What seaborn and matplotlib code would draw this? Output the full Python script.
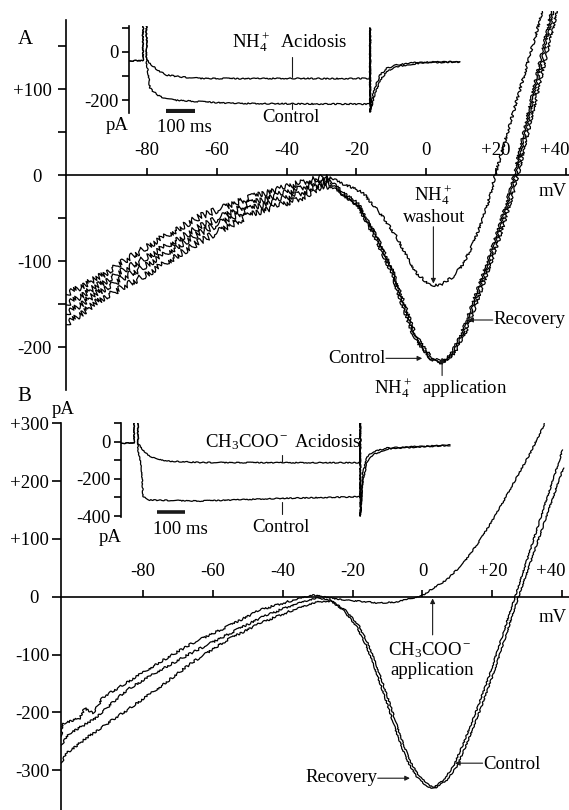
import matplotlib
matplotlib.use("Agg")
import matplotlib.pyplot as plt
import seaborn as sns

# ---------------- Panel A : I-V curves (mV, pA) ----------------
A_wash_mv = [-103.2, -93.5, -79.1, -64.8, -50.4, -36.1, -30.4, -27.5, -24.6, -21.8, -18.0, -13.2, -8.4, -5.5,
             -2.7, 1.1, 4.0, 7.8, 10.7, 13.6, 16.5, 18.3, 19.8, 33.5]
A_wash_pa = [-139, -118, -81, -48, -26, -9, -3, -2, -9, -13, -21, -44, -72, -95,
             -114, -128, -128, -118, -103, -79, -48, -25, 0, 192]

A_ctrl_mv = [-103.2, -93.5, -79.1, -64.8, -50.4, -36.1, -30.4, -27.5, -23.7, -19.4, -14.1, -9.8, -6.5, -3.2,
             1.1, 4.0, 6.9, 9.7, 12.6, 16.4, 20.3, 24.1, 25.2, 36.0]
A_ctrl_pa = [-151, -127, -93, -60, -33, -15, -6, -6, -20, -33, -72, -110, -149, -188,
             -213, -219, -209, -188, -157, -114, -68, -17, 0, 192]

A_app_mv = [-103.2, -93.5, -79.1, -64.8, -50.4, -36.1, -30.4, -27.5, -23.9, -19.6, -14.4, -10.1, -6.8, -3.4,
            1.4, 4.4, 7.4, 10.2, 13.1, 16.9, 20.8, 24.6, 25.7, 36.6]
A_app_pa = [-162, -135, -102, -67, -39, -21, -10, -9, -22, -36, -75, -113, -152, -190,
            -214, -220, -209, -188, -157, -114, -68, -17, 0, 192]

A_rec_mv = [-103.2, -93.5, -79.1, -64.8, -50.4, -36.1, -30.4, -27.5, -23.5, -19.2, -13.9, -9.6, -6.3, -3.0,
            1.6, 4.8, 8.0, 10.9, 13.8, 17.6, 21.5, 25.3, 26.4, 37.6]
A_rec_pa = [-174, -145, -113, -77, -46, -27, -14, -12, -24, -37, -73, -110, -148, -186,
            -212, -218, -208, -188, -157, -114, -68, -17, 0, 192]

# ---------------- Panel B : I-V curves (mV, pA) ----------------
B_app_mv = [-103.4, -102.8, -98.0, -96.6, -94.2, -91.4, -84.5, -75.1, -65.7, -55.9, -46.5, -37.1, -31.3,
            -26.5, -21.7, -12.2, -7.4, -2.6, 0.2, 3.1, 6.9, 11.7, 16.5, 21.2, 26.0, 30.8, 35.0, 36.5]
B_app_pa = [-242, -219, -210, -193, -201, -174, -148, -113, -80, -52, -23, -6, 3,
            -2, -6, -11, -9, -2, 3, 15, 29, 58, 98, 144, 196, 248, 300, 325]

B_rec_mv = [-103.4, -100.9, -94.2, -84.5, -75.1, -65.7, -55.9, -46.5, -37.1, -30.2, -26.5, -22.7, -18.8,
            -16.0, -13.1, -10.2, -7.4, -4.5, -1.7, 1.2, 3.1, 6.0, 8.8, 11.7, 15.5, 19.3, 23.1, 26.5, 40.1]
B_rec_pa = [-257, -236, -213, -161, -127, -96, -66, -37, -14, -2, -6, -23, -52,
            -86, -133, -184, -236, -283, -311, -329, -331, -317, -294, -254, -196, -133, -63, 0, 254]

B_ctrl_mv = [-103.4, -101.7, -94.2, -84.5, -75.1, -65.7, -55.9, -46.5, -37.1, -30.2, -25.7, -21.9, -18.0,
             -15.2, -12.3, -9.4, -6.6, -3.7, -0.9, 2.0, 3.9, 7.0, 9.8, 12.7, 16.5, 20.3, 24.1, 27.5, 40.3]
B_ctrl_pa = [-288, -270, -236, -196, -156, -113, -75, -46, -23, -9, -8, -24, -52,
             -86, -133, -184, -236, -283, -311, -327, -330, -317, -294, -254, -196, -133, -63, 0, 223]

# ---------------- Inset A : current traces (ms, pA) ----------------
IA_acid_t = [0, 48, 48.5, 60, 61, 84, 107, 130, 187, 245, 400, 562, 700, 831, 831.5, 832,
             842, 854, 866, 889, 923, 980, 1038, 1141]
IA_acid_pa = [-37, -37, 200, 200, -33, -61, -82, -96, -105, -110, -111, -110, -111, -110, 100, -250,
              -172, -131, -96, -68, -54, -45, -42, -40]
IA_ctrl_t = [0, 48, 48.5, 60, 61, 67, 72, 84, 107, 153, 245, 359, 600, 831, 831.5, 832,
             842, 854, 866, 889, 923, 980, 1038, 1141]
IA_ctrl_pa = [-37, -37, 200, 200, -47, -96, -150, -165, -186, -200, -207, -214, -216, -217, 100, -250,
              -200, -158, -117, -82, -61, -50, -44, -42]

# ---------------- Inset B : current traces (ms, pA) ----------------
IB_acid_t = [0, 46, 46.5, 59, 61, 78, 102, 163, 279, 562, 845, 845.5, 846,
             855, 869, 890, 940, 1032, 1163]
IB_acid_pa = [-8, -8, 200, 200, -10, -45, -82, -104, -112, -113, -113, 100, -400,
              -168, -82, -55, -34, -27, -18]
IB_ctrl_t = [0, 46, 46.5, 59, 60, 67, 74, 78, 102, 279, 562, 845, 845.5, 846,
             855, 869, 890, 940, 1032, 1163]
IB_ctrl_pa = [-8, -8, 200, 200, -40, -98, -168, -297, -314, -319, -305, -296, 100, -400,
              -210, -110, -70, -40, -30, -20]

# ---------------- tick labels ----------------
x_ticks = [-80, -60, -40, -20, 0, 20, 40]
x_labels = ["-80", "-60", "-40", "-20", "0", "+20", ""]
x_edge_label = "+40"
A_yticks = [-200, -100, 0, 100]
A_ylabels = ["-200", "-100", "0  ", "+100"]
A_yminor = [-150, -50, 50, 150]
B_yticks = [-300, -200, -100, 0, 100, 200, 300]
B_ylabels = ["-300", "-200", "-100", "0  ", "+100", "+200", "+300"]
IA_yticks = [0, -200]
IA_ylabels = ["0", "-200"]
IA_yminor = [100, -100]
IB_yticks = [0, -200, -400]
IB_ylabels = ["0", "-200", "-400"]
IB_yminor = [100, -100, -300]

# ---------------- style ----------------
sns.set_theme(style="ticks", rc={
    "axes.edgecolor": "black", "text.color": "black", "xtick.color": "black",
    "ytick.color": "black", "axes.labelcolor": "black"})
plt.rcParams['font.family'] = ['Liberation Serif', 'DejaVu Serif']
plt.rcParams['mathtext.fontset'] = 'custom'
plt.rcParams['mathtext.rm'] = 'Liberation Serif'
plt.rcParams['mathtext.it'] = 'Liberation Serif:italic'
plt.rcParams['mathtext.bf'] = 'Liberation Serif:bold'
plt.rcParams['axes.unicode_minus'] = False

FS = 13.5
W, H = 569, 810
fig = plt.figure(figsize=(W / 100, H / 100), dpi=100)
fig.patch.set_facecolor('white')


def rect(x0, y0, x1, y1):
    return [x0 / W, 1 - y1 / H, (x1 - x0) / W, (y1 - y0) / H]


axA = fig.add_axes(rect(66, 11, 569, 390))
axB = fig.add_axes(rect(61, 423, 569, 810))
insA = fig.add_axes(rect(129, 26, 470, 113))
insB = fig.add_axes(rect(121, 423.1, 460, 517))


def add_trace(ax, x, y, sketch, lw=0.9):
    sns.lineplot(x=x, y=y, ax=ax, color='black', lw=lw, sort=False, estimator=None)
    ax.lines[-1].set_sketch_params(*sketch)


# Panel A traces (noisier at hyperpolarised potentials)
for mv, pa in [(A_wash_mv, A_wash_pa), (A_ctrl_mv, A_ctrl_pa), (A_app_mv, A_app_pa), (A_rec_mv, A_rec_pa)]:
    k = mv.index(-27.5)
    add_trace(axA, mv[:k + 1], pa[:k + 1], (3.2, 4, 9))
    add_trace(axA, mv[k:], pa[k:], (1.2, 4, 9))

# Panel B traces
for mv, pa in [(B_app_mv, B_app_pa), (B_rec_mv, B_rec_pa), (B_ctrl_mv, B_ctrl_pa)]:
    k = mv.index(-37.1)
    add_trace(axB, mv[:k + 1], pa[:k + 1], (1.1, 4, 9))
    add_trace(axB, mv[k:], pa[k:], (0.6, 4, 9))

# Inset traces
add_trace(insA, IA_acid_t, IA_acid_pa, (0.6, 4, 9))
add_trace(insA, IA_ctrl_t, IA_ctrl_pa, (0.6, 4, 9))
add_trace(insB, IB_acid_t, IB_acid_pa, (0.5, 4, 9))
add_trace(insB, IB_ctrl_t, IB_ctrl_pa, (0.5, 4, 9))


def style_main(ax, xlim, ylim, spine_top, yticks, ylabels, yminor, ylen, ypad):
    ax.set_xlim(*xlim)
    ax.set_ylim(*ylim)
    ax.patch.set_alpha(0)
    ax.spines['right'].set_visible(False)
    ax.spines['bottom'].set_visible(False)
    ax.spines['top'].set_position(('data', 0))
    ax.spines['left'].set_bounds(ylim[0], spine_top)
    for s in ax.spines.values():
        s.set_linewidth(1.2)
    ax.xaxis.set_ticks_position('top')
    ax.set_xticks(x_ticks)
    ax.set_xticklabels(x_labels)
    ax.tick_params(axis='x', direction='out', length=5, width=1.2, pad=7, labelsize=FS)
    ax.annotate(x_edge_label, xy=(40, 0), xycoords='data', xytext=(2.6, 12),
                textcoords='offset points', ha='right', va='bottom', fontsize=FS)
    ax.set_yticks(yticks)
    ax.set_yticklabels(ylabels)
    ax.set_yticks(yminor, minor=True)
    ax.tick_params(axis='y', which='both', direction='out', length=ylen, width=1.2, pad=ypad, labelsize=FS)
    ax.set_xlabel('')
    ax.set_ylabel('')
    ax.grid(False)


style_main(axA, (-103.2, 40.97), (-249.8, 190.9), 180.5, A_yticks, A_ylabels, A_yminor, 6, 4)
style_main(axB, (-103.43, 41.92), (-369.0, 300.5), 300.5, B_yticks, B_ylabels, [], 6.5, 2)


def style_inset(ax, xlim, ylim, yticks, ylabels, yminor):
    ax.set_xlim(*xlim)
    ax.set_ylim(*ylim)
    ax.patch.set_alpha(0)
    for s in ['top', 'right', 'bottom']:
        ax.spines[s].set_visible(False)
    ax.spines['left'].set_linewidth(1.2)
    ax.set_xticks([])
    ax.set_yticks(yticks)
    ax.set_yticklabels(ylabels)
    ax.set_yticks(yminor, minor=True)
    ax.tick_params(axis='y', which='both', direction='out', length=5, width=1.2, pad=2.5, labelsize=FS)
    ax.set_xlabel('')
    ax.set_ylabel('')
    ax.grid(False)


style_inset(insA, (0, 1176), (-254, 108), IA_yticks, IA_ylabels, IA_yminor)
style_inset(insB, (0, 1198), (-405, 100), IB_yticks, IB_ylabels, IB_yminor)

# scale bars and pointers in insets
insA.plot([128, 228], [-244, -244], color='k', lw=3, solid_capstyle='butt')
insA.plot([562, 562], [-21, -104], color='k', lw=0.8)
insA.plot([562, 562], [-212, -236], color='k', lw=0.8)
insB.plot([127, 226], [-380, -380], color='k', lw=2.6, solid_capstyle='butt')
insB.plot([569, 569], [-72, -110], color='k', lw=0.8)
insB.plot([569, 569], [-322, -388], color='k', lw=0.8)


def ftext(x, y, s, ha='center', va='center', size=FS):
    fig.text(x / W, 1 - y / H, s, ha=ha, va=va, fontsize=size)


ftext(290, 42, r"NH$_4^+$  Acidosis")
ftext(291, 117, "Control")
ftext(117, 125, "pA")
ftext(184, 127, "100 ms")
ftext(283, 442, r"CH$_3$COO$^-$ Acidosis")
ftext(281, 528, "Control")
ftext(110, 537, "pA")
ftext(180, 529, "100 ms")
ftext(25, 39, "A", size=15)
ftext(24, 396, "B", size=15)
ftext(63, 409, "pA")
ftext(553, 192, "mV")
ftext(553, 617, "mV")

ap = dict(arrowstyle='-|>', color='k', lw=0.8, mutation_scale=7, shrinkA=0, shrinkB=0)

# Panel A annotations
axA.text(2.0, -23.6, r"NH$_4^+$", ha='center', va='center', fontsize=FS)
axA.text(2.3, -49.2, "washout", ha='center', va='center', fontsize=FS)
axA.annotate('', xy=(2.1, -126), xytext=(2.1, -60), arrowprops=ap)
axA.text(19.3, -168.4, "Recovery", ha='left', va='center', fontsize=FS)
axA.annotate('', xy=(12.1, -168.4), xytext=(19.1, -168.4), arrowprops=ap)
axA.text(-11.6, -213, "Control", ha='right', va='center', fontsize=FS)
axA.annotate('', xy=(-1.1, -213), xytext=(-11.5, -213), arrowprops=ap)
axA.text(4.3, -247.4, r"NH$_4^+$  application", ha='center', va='center', fontsize=FS)
axA.annotate('', xy=(4.6, -212), xytext=(4.6, -233), arrowprops=ap)

# Panel B annotations
axB.text(2.1, -92.2, r"CH$_3$COO$^-$", ha='center', va='center', fontsize=FS)
axB.text(2.7, -128.5, "application", ha='center', va='center', fontsize=FS)
axB.annotate('', xy=(2.9, -3), xytext=(2.9, -66), arrowprops=ap)
axB.text(-13.0, -312, "Recovery", ha='right', va='center', fontsize=FS)
axB.annotate('', xy=(-3.6, -314), xytext=(-12.8, -314), arrowprops=ap)
axB.text(17.4, -290, "Control", ha='left', va='center', fontsize=FS)
axB.annotate('', xy=(9.3, -288), xytext=(17.2, -288), arrowprops=ap)

fig.savefig("out.png", dpi=100, facecolor='white')
